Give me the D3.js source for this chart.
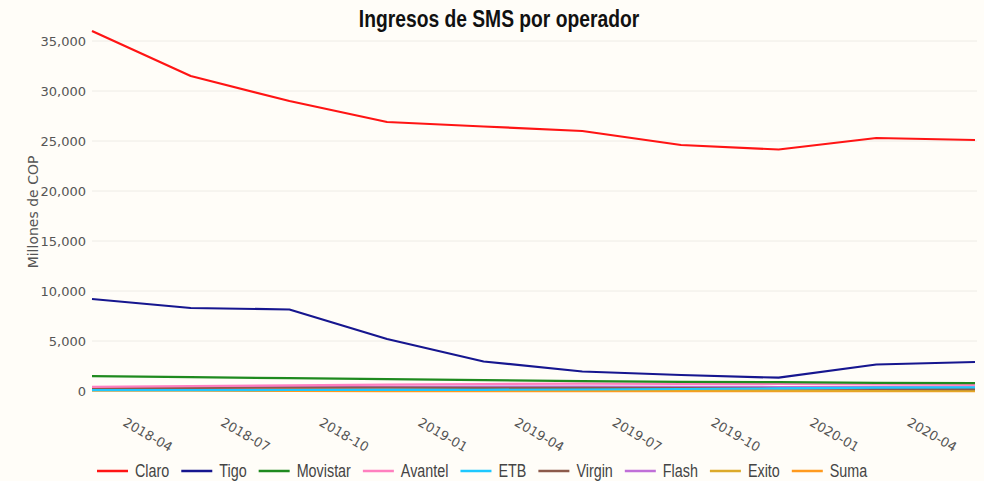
<!DOCTYPE html>
<html>
<head>
<meta charset="utf-8">
<script src="https://cdn.jsdelivr.net/npm/d3@7"></script>
<style>
  html, body { margin: 0; padding: 0; background: #fffdf8; }
  svg { display: block; }
</style>
</head>
<body>
<script>
// ---- Data ----
const dates = ["2018-03-01","2018-06-01","2018-09-01","2018-12-01","2019-03-01","2019-06-01","2019-09-01","2019-12-01","2020-03-01","2020-06-01"];
const claro    = [36000, 31500, 29000, 26900, 26450, 26000, 24600, 24150, 25300, 25100];
const tigo     = [9200, 8300, 8150, 5200, 2950, 1950, 1600, 1330, 2650, 2900];
const movistar = [1480, 1380, 1280, 1180, 1080, 980, 920, 880, 820, 790];
const avantel  = [420, 480, 560, 640, 700, 730, 720, 700, 650, 600];
const etb      = [80, 90, 100, 110, 120, 150, 200, 260, 330, 370];
const virgin   = [300, 320, 330, 330, 320, 310, 290, 250, 200, 180];
const flash    = [340, 370, 400, 420, 430, 430, 420, 400, 380, 360];
const exito    = [150, 140, 130, 120, 110, 100, 80, 60, 40, 30];
const suma     = [40, 30, 10, -20, -20, -20, -20, -20, -20, -20];
const seriesNames = ["Claro","Tigo","Movistar","Avantel","ETB","Virgin","Flash","Exito","Suma"];
const seriesValues = [claro, tigo, movistar, avantel, etb, virgin, flash, exito, suma];
const seriesColors = ["#ff1414","#16168f","#1f8a1f","#ff7fbf","#1ec8ff","#8c5a4b","#c06fd8","#dcaa2a","#ff9a1e"];
const yTicks = [0, 5000, 10000, 15000, 20000, 25000, 30000, 35000];
const xTickDates = ["2018-04-01","2018-07-01","2018-10-01","2019-01-01","2019-04-01","2019-07-01","2019-10-01","2020-01-01","2020-04-01"];
const titleText = "Ingresos de SMS por operador";
const yTitle = "Millones de COP";

// ---- Layout ----
const W = 984, H = 481;
const plot = { left: 92, right: 975, top: 13, bottom: 406 };
const parse = d3.utcParse("%Y-%m-%d");
const fmtTick = d3.utcFormat("%Y-%m");
const narrow = 0.82;

const svg = d3.select("body").append("svg").attr("width", W).attr("height", H)
  .style("background", "#fffdf8");

const x = d3.scaleUtc()
  .domain(d3.extent(dates, parse))
  .range([plot.left, plot.right]);
const y = d3.scaleLinear()
  .domain([-1500, 37800])
  .range([plot.bottom, plot.top]);

// gridlines
svg.append("g").selectAll("line").data(yTicks.filter(d => d !== 0)).join("line")
  .attr("x1", plot.left).attr("x2", plot.right + 2)
  .attr("y1", d => y(d)).attr("y2", d => y(d))
  .attr("stroke", "#eeece6").attr("stroke-width", 1);

// y axis
const yAxis = d3.axisLeft(y).tickValues(yTicks).tickSize(0).tickPadding(4)
  .tickFormat(d3.format(","));
const gy = svg.append("g").attr("transform", `translate(${plot.left - 2},0)`).call(yAxis);
gy.select(".domain").remove();
gy.selectAll("text").attr("font-family", "DejaVu Sans, Verdana, sans-serif")
  .attr("font-size", 13).attr("fill", "#555").attr("dy", "0.36em");

// x axis
const xAxis = d3.axisBottom(x).tickValues(xTickDates.map(parse)).tickSize(0).tickFormat(fmtTick);
const gx = svg.append("g").attr("transform", `translate(0,${plot.bottom + 10})`).call(xAxis);
gx.select(".domain").remove();
gx.selectAll("text")
  .attr("font-family", "DejaVu Sans, Verdana, sans-serif")
  .attr("font-size", 13).attr("fill", "#555")
  .attr("text-anchor", "start")
  .attr("x", 0).attr("y", 0).attr("dy", "0.75em").attr("dx", "0.1em")
  .attr("transform", "rotate(30)");

// y title
svg.append("text")
  .attr("transform", `translate(38,212) rotate(-90)`)
  .attr("text-anchor", "middle")
  .attr("font-family", "DejaVu Sans, Verdana, sans-serif")
  .attr("font-size", 14).attr("fill", "#555")
  .text(yTitle);

// title
svg.append("text")
  .attr("transform", `translate(499,27) scale(${narrow},1)`)
  .attr("text-anchor", "middle")
  .attr("font-family", "Liberation Sans, Arial, sans-serif")
  .attr("font-weight", "bold").attr("font-size", 23.5).attr("fill", "#111")
  .text(titleText);

// lines (draw in reverse so Claro on top)
const line = d3.line().x((d, i) => x(parse(dates[i]))).y(d => y(d));
const order = d3.range(seriesNames.length).reverse();
svg.append("g").selectAll("path").data(order).join("path")
  .attr("d", k => line(seriesValues[k]))
  .attr("fill", "none")
  .attr("stroke", k => seriesColors[k])
  .attr("stroke-width", 2.2)
  .attr("stroke-linejoin", "round");

// legend
const lg = svg.append("g").attr("transform", "translate(97,471)");
let cx = 0;
seriesNames.forEach((name, k) => {
  const g = lg.append("g").attr("transform", `translate(${cx},0)`);
  g.append("line").attr("x1", 0).attr("x2", 31).attr("y1", 0).attr("y2", 0)
    .attr("stroke", seriesColors[k]).attr("stroke-width", 2.5);
  const t = g.append("text").attr("transform", `translate(38,0) scale(${narrow},1)`)
    .attr("dy", "0.36em")
    .attr("font-family", "Liberation Sans, Arial, sans-serif")
    .attr("font-size", 17.5).attr("fill", "#444").text(name);
  cx += 38 + t.node().getComputedTextLength() * narrow + 12;
});
</script>
</body>
</html>
